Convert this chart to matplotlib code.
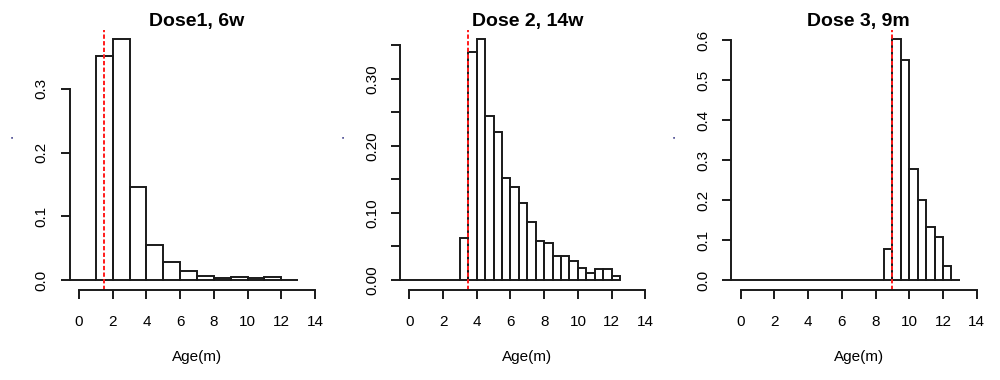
import numpy as np
import matplotlib
matplotlib.use("Agg")
import matplotlib.pyplot as plt

plt.rcParams['font.family'] = ['Liberation Sans', 'DejaVu Sans']

# --- data (density per bin) ---
titles = ['Dose1, 6w', 'Dose 2, 14w', 'Dose 3, 9m']
dose_ages = [1.5, 3.5, 9.0]          # red dashed reference lines (months)

# Dose 1: 1-month bins starting at -1
d1_start, d1_width = -1.0, 1.0
d1_density = [0.0, 0.0, 0.352, 0.378, 0.146, 0.055, 0.028, 0.014,
              0.006, 0.003, 0.005, 0.003, 0.005, 0.0]

# Dose 2: half-month bins starting at -1
d2_start, d2_width = -1.0, 0.5
d2_density = [0.0] * 8 + [0.062, 0.340, 0.359, 0.244, 0.220, 0.152, 0.138,
                          0.115, 0.086, 0.058, 0.055, 0.035, 0.035, 0.029,
                          0.018, 0.011, 0.016, 0.016, 0.0055]

# Dose 3: half-month bins starting at -1
d3_start, d3_width = -1.0, 0.5
d3_density = [0.0] * 19 + [0.078, 0.603, 0.552, 0.277, 0.200, 0.133,
                           0.1075, 0.034, 0.0]

hists = [(d1_start, d1_width, d1_density),
         (d2_start, d2_width, d2_density),
         (d3_start, d3_width, d3_density)]

y_ticks = [[0.0, 0.1, 0.2, 0.3],
           [0.0, 0.05, 0.10, 0.15, 0.20, 0.25, 0.30, 0.35],
           [0.0, 0.1, 0.2, 0.3, 0.4, 0.5, 0.6]]
y_ticklabels = [['0.0', '0.1', '0.2', '0.3'],
                ['0.00', '', '0.10', '', '0.20', '', '0.30', ''],
                ['0.0', '0.1', '0.2', '0.3', '0.4', '0.5', '0.6']]
x_ticks = [0, 2, 4, 6, 8, 10, 12, 14]

fig = plt.figure(figsize=(10, 3.8), dpi=100)
lefts = [0.0696, 0.3999, 0.7313]
bottom, width, height = 0.2379, 0.2549, 0.6842

LW = 1.4
FS = 11
for i, (start, w, dens) in enumerate(hists):
    ax = fig.add_axes([lefts[i], bottom, width, height])
    dens = np.array(dens)
    edges = start + w * np.arange(len(dens))
    ax.bar(edges, dens, width=w, align='edge', fill=False,
           edgecolor='#1a1a1a', linewidth=LW)

    ymax = dens.max()
    ax.set_xlim(-0.56, 14.56)
    ax.set_ylim(-0.04 * ymax, 1.04 * ymax)

    ax.axvline(dose_ages[i], color='#ff1a1a', linewidth=LW,
               linestyle=(0, (2.2, 1.2)), clip_on=False)

    for s in ['top', 'right']:
        ax.spines[s].set_visible(False)
    ax.spines['bottom'].set_bounds(0, 14)
    ax.spines['left'].set_bounds(0, y_ticks[i][-1])
    for s in ['bottom', 'left']:
        ax.spines[s].set_linewidth(LW)
        ax.spines[s].set_color('#1a1a1a')

    ax.set_xticks(x_ticks)
    ax.set_xticklabels([str(t) for t in x_ticks])
    ax.set_yticks(y_ticks[i])
    ax.set_yticklabels(y_ticklabels[i], rotation=90, va='center')
    ax.tick_params(axis='both', direction='out', length=6.5, width=LW,
                   color='#1a1a1a', labelsize=FS)
    ax.tick_params(axis='x', pad=11.5)
    ax.tick_params(axis='y', pad=8.5)

    ax.set_title(titles[i], fontsize=14, fontweight='bold', pad=1.2)
    ax.set_xlabel('Age(m)', fontsize=FS)
    ax.xaxis.set_label_coords(0.5, -0.232)
    ax.set_ylabel('.', fontsize=FS, color='#303080')
    ax.yaxis.set_label_coords(-0.21, 0.59)

fig.savefig('out.png', dpi=100)
